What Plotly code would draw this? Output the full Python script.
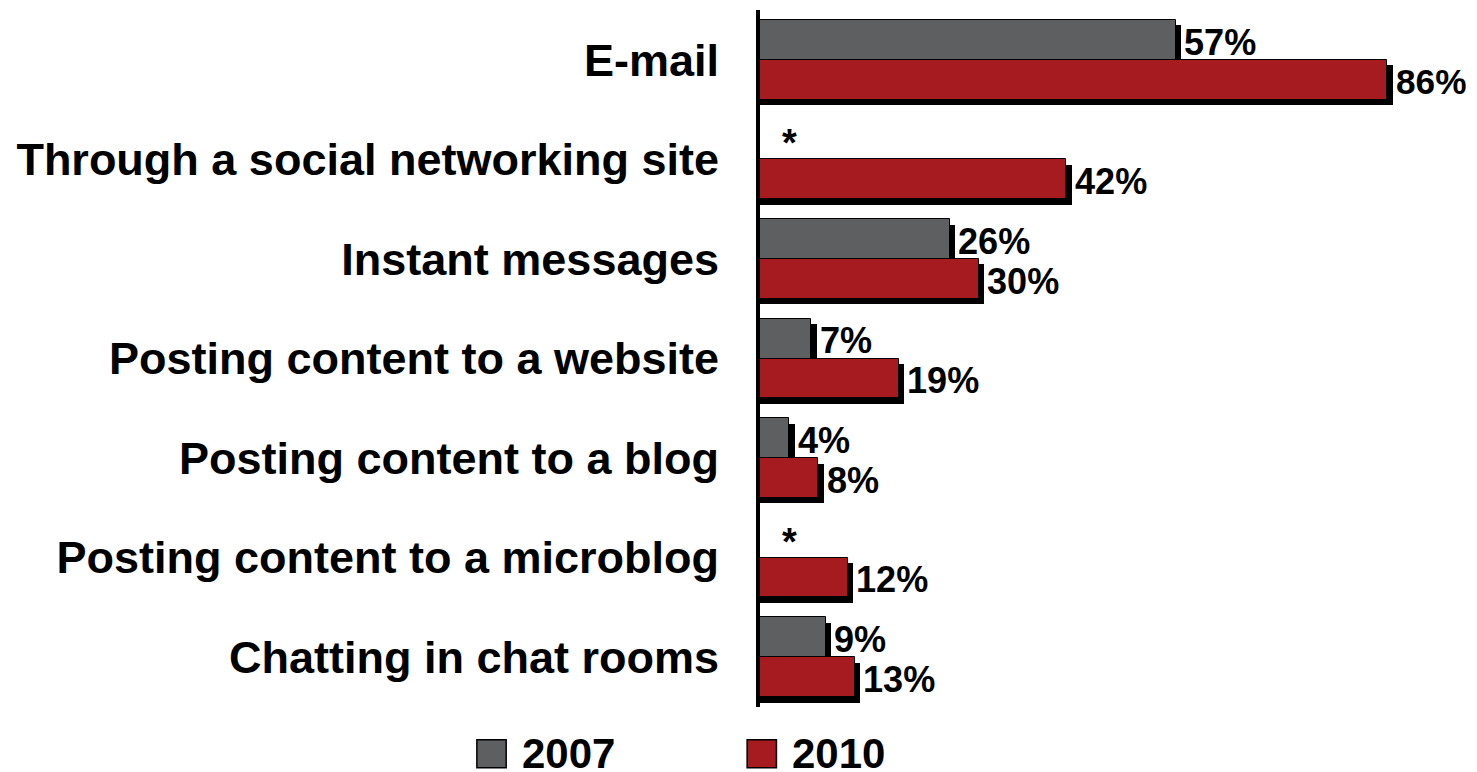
import plotly.graph_objects as go

categories = [
    "E-mail",
    "Through a social networking site",
    "Instant messages",
    "Posting content to a website",
    "Posting content to a blog",
    "Posting content to a microblog",
    "Chatting in chat rooms",
]
values_2007 = [57, None, 26, 7, 4, None, 9]
values_2010 = [86, 42, 30, 19, 8, 12, 13]
series_names = ["2007", "2010"]
series_colors = ["#5e5f61", "#a51b1f"]

W = 0.40      # bar thickness (category units)
DX = 0.75     # shadow offset along value axis (%)
DY = 0.055    # shadow offset along category axis
FONT = "Liberation Sans, Arial, sans-serif"

fig = go.Figure()
series = [values_2007, values_2010]
offsets = [-W, 0.0]

# shadows
for vals, off in zip(series, offsets):
    fig.add_trace(go.Bar(
        y=categories, x=[None if v is None else v + DX for v in vals],
        orientation="h", width=W, offset=off + DY,
        marker=dict(color="black", line=dict(width=0)),
        showlegend=False, hoverinfo="skip"))

# main bars
for name, vals, off, col in zip(series_names, series, offsets, series_colors):
    fig.add_trace(go.Bar(
        y=categories, x=vals, name=name,
        orientation="h", width=W, offset=off,
        marker=dict(color=col, line=dict(color="black", width=1)),
        showlegend=False))

# value labels (transparent carrier bars)
for vals, off in zip(series, offsets):
    fig.add_trace(go.Bar(
        y=categories, x=[None if v is None else v + DX for v in vals],
        orientation="h", width=W, offset=off + DY / 2,
        marker=dict(color="rgba(0,0,0,0)", line=dict(width=0)),
        text=[None if v is None else f"{v}%" for v in vals],
        textposition="outside", cliponaxis=False,
        textfont=dict(family=FONT, size=37, color="black", weight="bold"),
        showlegend=False, hoverinfo="skip"))

annotations = []
for cat, v in zip(categories, values_2007):
    if v is None:
        annotations.append(dict(
            x=0, y=cat, xref="x", yref="y", text="*", showarrow=False,
            xanchor="center", xshift=29, yshift=16,
            font=dict(family=FONT, size=38, color="black", weight="bold")))

# legend (manual, large swatches)
leg_sw = [(-0.396, -0.355), (-0.018, 0.023)]
leg_tx = [-0.335, 0.042]
shapes = []
for name, col, (x0, x1), tx in zip(series_names, series_colors, leg_sw, leg_tx):
    shapes.append(dict(type="rect", xref="paper", yref="paper",
                       x0=x0, x1=x1, y0=-0.087, y1=-0.047,
                       fillcolor=col, line=dict(color="black", width=1.5)))
    annotations.append(dict(x=tx, y=-0.067, xref="paper", yref="paper",
                            text=name, showarrow=False, xanchor="left", yanchor="middle",
                            font=dict(family=FONT, size=42, color="black", weight="bold")))

# page body has an 8px margin, so the figure is 8px smaller than the window
fig.update_layout(
    width=1469, height=764,
    margin=dict(l=752, r=2, t=2, b=65),
    paper_bgcolor="white", plot_bgcolor="white",
    barmode="overlay", bargap=0,
    showlegend=False,
    annotations=annotations, shapes=shapes,
    xaxis=dict(range=[0, 98], visible=False, fixedrange=True),
    yaxis=dict(autorange="reversed", showline=True, linewidth=4, linecolor="black",
               ticks="", showgrid=False, ticklabelstandoff=28,
               tickfont=dict(family=FONT, size=45, color="black", weight="bold")),
)

fig.write_html("out.html")
